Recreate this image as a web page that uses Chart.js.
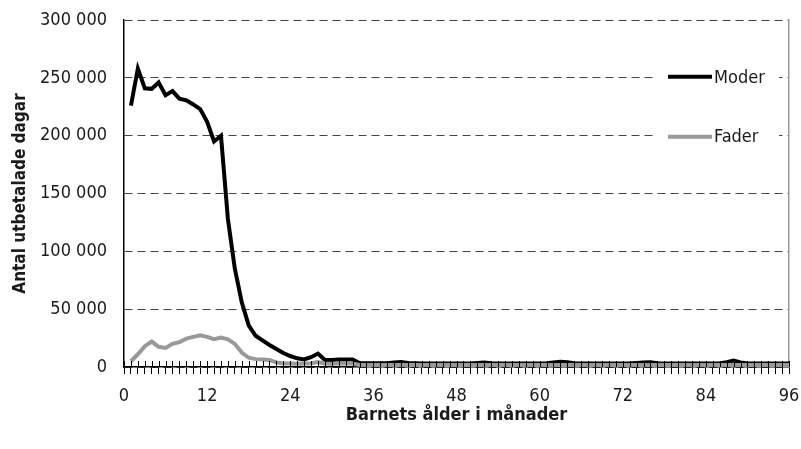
<!DOCTYPE html>
<html>
<head>
<meta charset="utf-8">
<script src="https://cdn.jsdelivr.net/npm/chart.js@4.4.1/dist/chart.umd.min.js"></script>
<style>
  html, body { margin: 0; padding: 0; background: #fff; }
  #wrap { width: 801px; height: 449px; position: relative; }
</style>
</head>
<body>
<div id="wrap"><canvas id="c" width="801" height="449"></canvas></div>
<script>
// ---- Data ----
const months = Array.from({length: 96}, (_, i) => i + 1);

const moderLabel = "Moder";
const faderLabel = "Fader";

const moder = [
  226000, 258000, 241000, 240500, 246000, 235000, 238500, 232000, 230500, 227000,
  223000, 212000, 195000, 200000, 128000, 85000, 56000, 36000, 27000, 23000,
  19000, 15500, 12100, 9500, 7500, 6500, 8500, 11600, 6000, 6000,
  6500, 6500, 6500, 3500, 3200, 3200, 3200, 3300, 3800, 4300,
  3500, 3200, 3000, 3000, 3000, 3000, 3000, 3000, 3000, 3100,
  3400, 3800, 3300, 3000, 3000, 3000, 3000, 3000, 3000, 3000,
  3200, 3800, 4500, 4200, 3300, 3000, 3000, 3000, 3000, 3000,
  3000, 3000, 3100, 3500, 4000, 4200, 3300, 3000, 3000, 3000,
  3000, 3000, 3000, 3000, 3000, 3200, 4200, 5500, 4000, 3000,
  3000, 3000, 3000, 3000, 3000, 3000
];

const fader = [
  5000, 11000, 18000, 22000, 17500, 16500, 20000, 21500, 24500, 26000,
  27500, 26000, 24000, 25500, 24000, 20000, 12500, 8000, 6800, 6500,
  6000, 4000, 3000, 3000, 2800, 3000, 3300, 4300, 3000, 2800,
  3000, 3000, 3000, 1800, 1700, 1700, 1700, 1700, 1700, 1700,
  1700, 1700, 1700, 1700, 1700, 1700, 1700, 1700, 1700, 1700,
  1700, 1700, 1700, 1700, 1700, 1700, 1700, 1700, 1700, 1700,
  1700, 1700, 1700, 1700, 1700, 1700, 1700, 1700, 1700, 1700,
  1700, 1700, 1700, 1700, 1700, 1700, 1700, 1700, 1700, 1700,
  1700, 1700, 1700, 1700, 1700, 1700, 1700, 1700, 1700, 1700,
  1700, 1700, 1700, 1700, 1700, 1700
];

const xTickStep = 12;          // labelled x ticks
const yTicks = [0, 50000, 100000, 150000, 200000, 250000, 300000];
const xTitle = "Barnets ålder i månader";
const yTitle = "Antal utbetalade dagar";

// ---- Styling ----
const FONT = "'DejaVu Sans Condensed', 'Arial Narrow', sans-serif";
const TXT = '#1a1a1a';

function fmt(v) {
  return String(v).replace(/\B(?=(\d{3})+(?!\d))/g, ' ');
}

// tick marks crossing the x axis (upward part) + legend
const extras = {
  id: 'extras',
  afterDatasetsDraw(chart) {
    const ctx = chart.ctx;
    const x = chart.scales.x;
    const area = chart.chartArea;
    ctx.save();
    // upward tick segments
    ctx.strokeStyle = '#000';
    ctx.lineWidth = 1;
    ctx.beginPath();
    x.ticks.forEach(t => {
      const px = Math.round(x.getPixelForValue(t.value)) + 0.5;
      ctx.moveTo(px, area.bottom);
      ctx.lineTo(px, area.bottom - 6);
    });
    ctx.stroke();
    // legend
    const items = [0, 1].map(i => chart.data.datasets[i]);
    const bx = area.right - 132, by = area.top + 40;
    ctx.fillStyle = '#fff';
    ctx.fillRect(bx, by, 122, 92);
    const rows = [chart.scales.y.getPixelForValue(250000) - 1, chart.scales.y.getPixelForValue(200000) + 1];
    items.forEach((ds, i) => {
      const yy = rows[i];
      ctx.strokeStyle = ds.borderColor;
      ctx.lineWidth = 4;
      ctx.beginPath();
      ctx.moveTo(area.right - 121, yy);
      ctx.lineTo(area.right - 77, yy);
      ctx.stroke();
      ctx.fillStyle = TXT;
      ctx.font = "18px " + FONT;
      ctx.textBaseline = 'middle';
      ctx.textAlign = 'left';
      ctx.fillText(ds.label, area.right - 75, yy + 1);
    });
    ctx.restore();
  }
};

new Chart(document.getElementById('c'), {
  type: 'line',
  data: {
    datasets: [
      {
        label: moderLabel,
        data: months.map((m, i) => ({x: m, y: moder[i]})),
        borderColor: '#000',
        borderWidth: 4,
        pointRadius: 0,
        tension: 0,
        order: 1
      },
      {
        label: faderLabel,
        data: months.map((m, i) => ({x: m, y: fader[i]})),
        borderColor: '#999',
        borderWidth: 4,
        pointRadius: 0,
        tension: 0,
        order: 0
      }
    ]
  },
  options: {
    responsive: false,
    animation: false,
    layout: { padding: { top: 20, right: 12, bottom: 0, left: 0 } },
    plugins: { legend: { display: false }, tooltip: { enabled: false } },
    scales: {
      x: {
        type: 'linear',
        min: 0, max: 96,
        afterFit(s) { s.height = 82; s.paddingLeft = 0; s.paddingRight = 0; },
        ticks: {
          stepSize: 1,
          maxTicksLimit: 200,
          autoSkip: false,
          maxRotation: 0,
          padding: 12,
          color: TXT,
          font: { family: FONT, size: 18 },
          callback: v => (v % xTickStep === 0 ? String(v) : '')
        },
        grid: { drawOnChartArea: false, drawTicks: true, tickLength: 7, color: '#000', lineWidth: 1 },
        border: { color: '#000', width: 1.5 },
        title: { display: true, text: xTitle, color: TXT, font: { family: FONT, size: 18, weight: 'bold' }, padding: { top: 0, bottom: 23 } }
      },
      y: {
        min: 0, max: 300000,
        afterFit(s) { s.width = 124; s.paddingTop = 0; s.paddingBottom = 0; },
        afterBuildTicks(s) { s.ticks = yTicks.map(v => ({value: v})); },
        ticks: {
          padding: 17,
          color: TXT,
          font: { family: FONT, size: 18 },
          callback: v => fmt(v)
        },
        grid: { color: '#444', lineWidth: 1, drawTicks: false },
        border: { color: '#000', width: 1.5, dash: [8, 5] },
        title: { display: true, text: yTitle, color: TXT, font: { family: FONT, size: 17, weight: 'bold' }, padding: { top: 10, bottom: 0 } }
      },
      y2: {
        position: 'right',
        min: 0, max: 300000,
        afterFit(s) { s.width = 0; s.paddingTop = 0; s.paddingBottom = 0; },
        ticks: { display: false },
        grid: { drawOnChartArea: false, drawTicks: false },
        border: { color: '#999', width: 1.5 }
      }
    }
  },
  plugins: [extras]
});
</script>
</body>
</html>
